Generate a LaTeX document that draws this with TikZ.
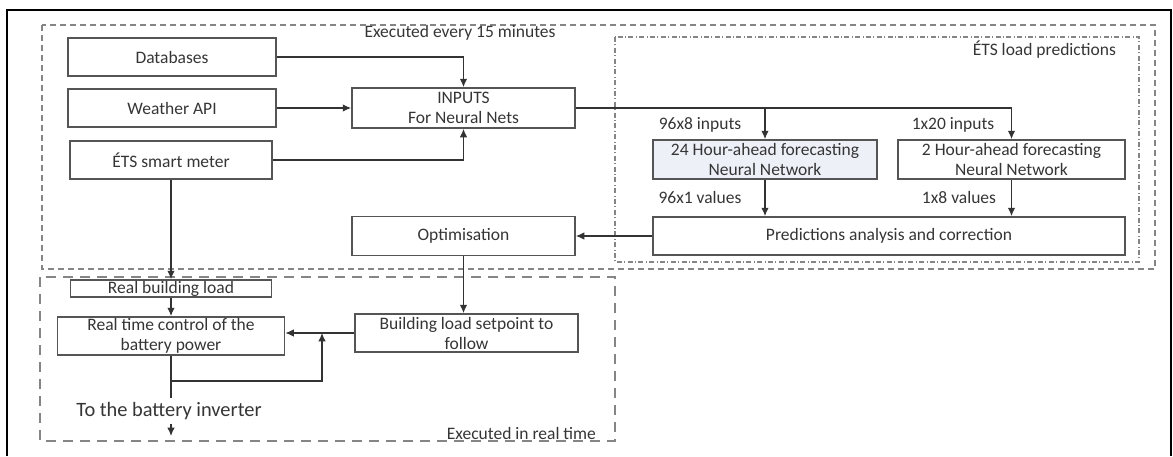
\documentclass[tikz,border=0pt]{standalone}
\usepackage{fontspec}
\setsansfont{Carlito}
\usetikzlibrary{arrows.meta}

\definecolor{boxline}{HTML}{555555}
\definecolor{txt}{HTML}{353535}
\definecolor{zone}{HTML}{858585}
\definecolor{nnfill}{HTML}{EEF0F8}

\begin{document}
\begin{tikzpicture}[x=0.5pt,y=-0.5pt,font=\fontsize{8.75}{10}\selectfont\sffamily,text=txt,
  >={Latex[length=4.2pt,width=3.8pt]},
  blk/.style={draw=boxline,line width=0.85pt,minimum height=19pt,inner sep=0pt,align=center},
  lnk/.style={draw=black!80,line width=0.65pt},
  zone15/.style={draw=zone,line width=1pt,dash pattern=on 3pt off 2pt},
  zonert/.style={draw=zone,line width=1pt,dash pattern=on 5pt off 3.5pt},
  zonepred/.style={draw=zone,line width=0.7pt,dash pattern=on 2.5pt off 1.2pt on 0.5pt off 1.2pt}]
\useasboundingbox (0,0) rectangle (1173,456);
% frame and zones
\draw [line width=1.3pt] (7,456) -- (7,10) -- (1171,10) -- (1171,456);
\draw [zone15] (42,25) rectangle (1155,269);
\draw [zonepred] (615,37) rectangle (1139,262);
\draw [zonert] (40,277) rectangle (615,441);
\node (lbl15) at (460,33) {Executed every 15 minutes};
\node [anchor=east] (lblpred) at (1123,50) {ÉTS load predictions};
\node [anchor=east] (lblrt) at (603,433) {Executed in real time};

% sources
\node [blk,minimum width=104pt] (db) at (172,57) {Databases};
\node [blk,minimum width=104pt] (weather) at (172,108) {Weather API};
\node [blk,minimum width=101pt] (meter) at (171,160) {ÉTS smart meter};
\node [blk,minimum width=111.5pt,minimum height=20pt] (inputs) at (463.5,108) {INPUTS\\For Neural Nets};

% neural nets
\node [blk,fill=nnfill,minimum width=112pt,minimum height=19.5pt] (nn24) at (765,159.5) {24 Hour-ahead forecasting\\Neural Network};
\node [blk,minimum width=113.5pt,minimum height=19.5pt] (nn2) at (1011.5,159.5) {2 Hour-ahead forecasting\\Neural Network};
\node [blk,minimum width=236pt] (pred) at (889,236) {Predictions analysis and correction};
\node [blk,minimum width=111.5pt,minimum height=19.5pt] (optim) at (463.5,236) {Optimisation};

% real time part
\node [blk,minimum width=100.5pt,minimum height=8.5pt] (realload) at (171,288.5) {Real building load};
\node [blk,minimum width=113.5pt] (control) at (171,336) {Real time control of the\\battery power};
\node [blk,minimum width=111.5pt] (setpoint) at (466.5,333) {Building load setpoint to\\follow};
\node [font=\fontsize{10.2}{12}\selectfont\sffamily,inner sep=2pt] (inv) at (169,411) {To the battery inverter};
\coordinate (fbl) at (171,381);
\coordinate (fbr) at (322,381);
\coordinate (out) at (171,436);

% flows
\draw [lnk,->] (db.east) -| (inputs.north);
\draw [lnk,->] (weather.east) -- (inputs.west);
\draw [lnk,->] (meter.east) -| (inputs.south);
\draw [lnk,->] (inputs.east) -| (nn2.north);
\draw [lnk,->] (inputs.east -| nn24.north) -- (nn24.north);
\node (in24) at (700,125) {96x8 inputs};
\node (in2) at (953,125) {1x20 inputs};
\draw [lnk,->] (nn24.south) -- (nn24.south |- pred.north);
\draw [lnk,->] (nn2.south) -- (nn2.south |- pred.north);
\node (out24) at (700,197) {96x1 values};
\node (out2) at (959,197) {1x8 values};
\draw [lnk,->] (pred.west) -- (pred.west -| optim.east);
\draw [lnk,->] (meter.south) -- (realload.north);
\draw [lnk,->] (realload.south) -- (control.north);
\draw [lnk,->] (optim.south) -- (optim.south |- setpoint.north);
\draw [lnk,->] (setpoint.west) -- (setpoint.west -| control.east);
\draw [lnk,->] (control.south) -- (fbl) -- (fbr) -- (fbr |- setpoint.west);
\draw [lnk] (fbl) -- (fbl |- inv.north);
\draw [lnk,->] (inv.south -| fbl) -- (out);
\end{tikzpicture}
\end{document}
